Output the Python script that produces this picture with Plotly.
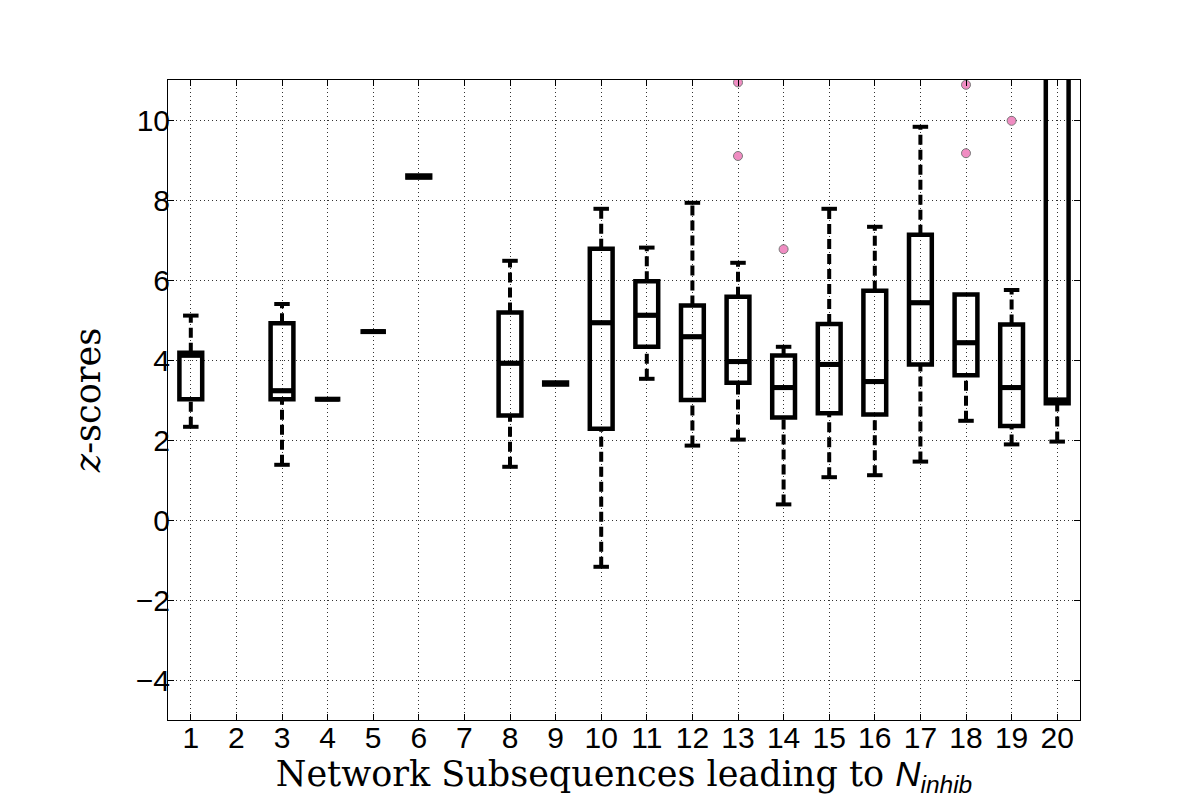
import plotly.graph_objects as go

# values (z-scores per subsequence)
cats = [1, 3, 4, 5, 6, 8, 9, 10, 11, 12, 13, 14, 15, 16, 17, 18, 19, 20]
lower_whisker = [2.33, 1.38, 3.02, 4.71, 8.56, 1.33, 3.39, -1.17, 3.53, 1.86, 2.01, 0.39, 1.07, 1.12, 1.46, 2.48, 1.89, 1.96]
q1 = [3.02, 3.02, 3.02, 4.71, 8.56, 2.61, 3.39, 2.28, 4.33, 3.00, 3.43, 2.56, 2.67, 2.64, 3.89, 3.62, 2.35, 2.92]
median = [4.12, 3.23, 3.02, 4.71, 8.58, 3.92, 3.41, 4.93, 5.12, 4.58, 3.96, 3.31, 3.89, 3.46, 5.43, 4.43, 3.31, 3.00]
q3 = [4.18, 4.92, 3.02, 4.71, 8.61, 5.19, 3.44, 6.78, 5.97, 5.36, 5.58, 4.11, 4.90, 5.73, 7.13, 5.64, 4.89, 14.0]
upper_whisker = [5.11, 5.40, 3.02, 4.71, 8.61, 6.48, 3.44, 7.78, 6.81, 7.93, 6.43, 4.33, 7.78, 7.33, 9.83, 5.64, 5.75, 16.0]

out_x = [13, 13, 14, 18, 18, 19]
out_y = [10.94, 9.10, 6.77, 10.88, 9.17, 9.98]

x_ticks = list(range(1, 21))
y_ticks = [-4, -2, 0, 2, 4, 6, 8, 10]
y_ticktext = ["\u2212" + str(-v) if v < 0 else str(v) for v in y_ticks]

cap_half = 0.17
med_half = 0.28

fig = go.Figure()

# boxes without whiskers (whiskers drawn dashed below)
fig.add_trace(go.Box(
    x=cats, q1=q1, median=median, q3=q3,
    lowerfence=q1, upperfence=q3,
    boxpoints=False,
    line=dict(color="black", width=4.5),
    fillcolor="rgba(0,0,0,0)",
    showlegend=False, hoverinfo="skip",
))

# thicker median bars, as in matplotlib
mx, my = [], []
for c, m in zip(cats, median):
    mx += [c - med_half, c + med_half, None]
    my += [m, m, None]
fig.add_trace(go.Scatter(x=mx, y=my, mode="lines",
                         line=dict(color="black", width=5),
                         showlegend=False, hoverinfo="skip"))

# dashed whiskers
wx, wy = [], []
for c, lo, a, b, hi in zip(cats, lower_whisker, q1, q3, upper_whisker):
    if lo < a:
        wx += [c, c, None]
        wy += [lo, a, None]
    if hi > b:
        wx += [c, c, None]
        wy += [b, hi, None]
fig.add_trace(go.Scatter(x=wx, y=wy, mode="lines",
                         line=dict(color="black", width=4, dash="10px,5px"),
                         showlegend=False, hoverinfo="skip"))

# whisker caps
cx, cy = [], []
for c, lo, a, b, hi in zip(cats, lower_whisker, q1, q3, upper_whisker):
    if lo < a:
        cx += [c - cap_half, c + cap_half, None]
        cy += [lo, lo, None]
    if hi > b:
        cx += [c - cap_half, c + cap_half, None]
        cy += [hi, hi, None]
fig.add_trace(go.Scatter(x=cx, y=cy, mode="lines",
                         line=dict(color="black", width=4),
                         showlegend=False, hoverinfo="skip"))

# outliers
fig.add_trace(go.Scatter(x=out_x, y=out_y, mode="markers",
                         marker=dict(size=9, color="#f08cc2", line=dict(color="#7a7a7a", width=1)),
                         showlegend=False, hoverinfo="skip"))

axis_common = dict(
    showline=True, linecolor="black", linewidth=1, mirror="ticks",
    ticks="inside", ticklen=6, tickcolor="black",
    showgrid=True, gridcolor="#333333", gridwidth=1, griddash="1px,3px",
    zeroline=False, automargin=False,
    tickfont=dict(family="Liberation Sans", size=30, color="black"),
)

# page body adds 8px offset, margins compensate for it
fig.update_layout(
    width=1200, height=800,
    paper_bgcolor="white", plot_bgcolor="white",
    margin=dict(l=160, r=128, t=72, b=88),
    boxgap=0.5, boxgroupgap=0,
    xaxis=dict(range=[0.5, 20.5], tickvals=x_ticks, ticklabelstandoff=-9,
               title=dict(text="Network Subsequences leading to "
                               "<span style='font-family:Liberation Sans'><i>N<sub>inhib</sub></i></span>",
                          font=dict(family="DejaVu Serif", size=35, color="black"),
                          standoff=0),
               **axis_common),
    yaxis=dict(range=[-5, 11], tickvals=y_ticks, ticktext=y_ticktext, ticklabelstandoff=-9,
               title=dict(text="<i>z</i>-scores",
                          font=dict(family="DejaVu Serif", size=35, color="black"),
                          standoff=24),
               **axis_common),
)

fig.write_html("out.html")
